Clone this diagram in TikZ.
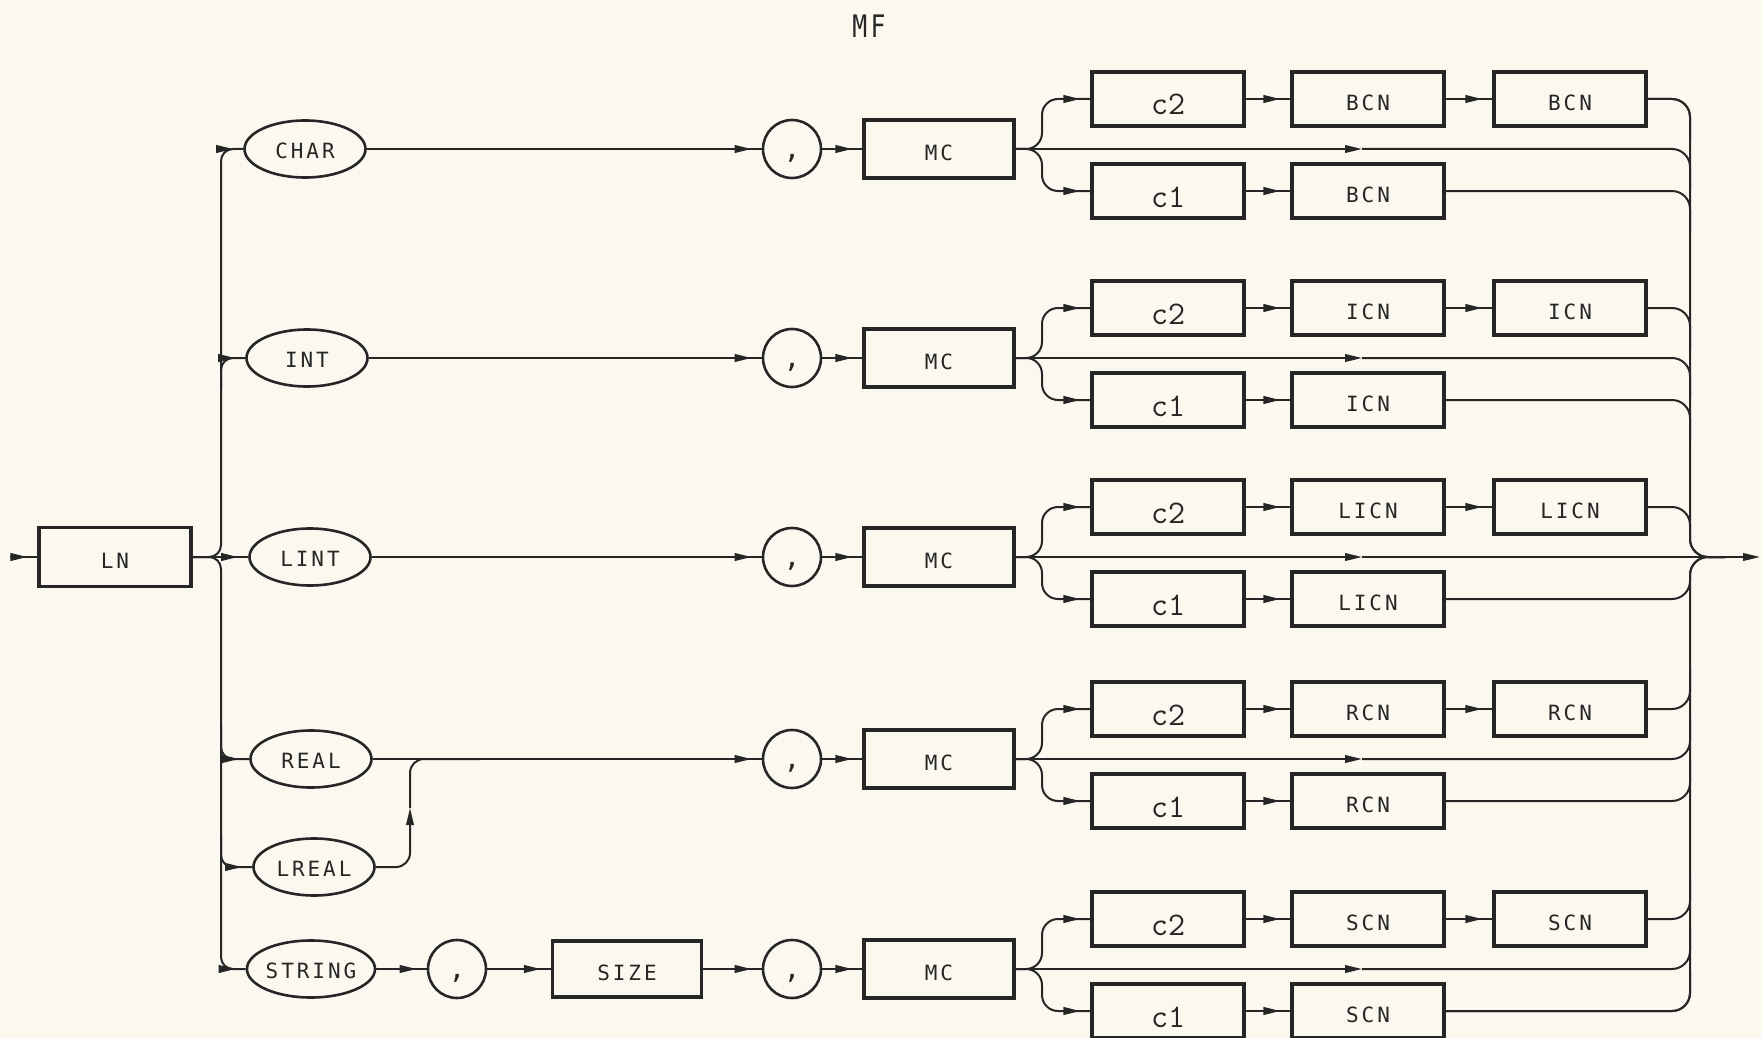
\documentclass[tikz,border=0pt]{standalone}
\usepackage{fontspec}
\usetikzlibrary{arrows.meta,decorations.markings,shapes.geometric}
\newfontfamily\plotfont[LetterSpace=14]{DejaVu Sans Mono}
\definecolor{ink}{HTML}{262626}
\definecolor{paper}{HTML}{FBF9EF}
\tikzset{
  conn/.style={draw,color=ink,line width=1pt},
  arr/.style={postaction={decorate},decoration={markings,mark=at position -5pt with {\arrow{Triangle[length=8.5pt,width=3.8pt]}}}},
  endarr/.style={-{Triangle[length=8.5pt,width=3.8pt]}},
  box/.style={draw=ink,line width=1.6pt,rectangle,minimum width=76pt,minimum height=27pt,inner sep=0pt,
    font=\plotfont\fontsize{10.5}{12}\selectfont,text=ink,text height=11.5pt,text depth=0pt},
  cbox/.style={box,font=\ttfamily\fontsize{16.5}{18}\selectfont,text height=16pt},
  oval/.style={ellipse,draw=ink,line width=1.3pt,minimum width=60.5pt,minimum height=28.5pt,inner sep=0pt,
    font=\plotfont\fontsize{10.5}{12}\selectfont,text=ink,text height=9.5pt,text depth=0pt},
  comma/.style={circle,draw=ink,line width=1.3pt,minimum size=29pt,inner sep=0pt,text=ink,
    font=\plotfont\fontsize{14}{14}\selectfont},
}
\newcommand{\cm}{\smash{\raisebox{-4.5pt}{,}}}
\begin{document}
\begin{tikzpicture}[x=0.5pt,y=-0.5pt]
\fill[paper] (0,0) rectangle (1762,1038);
\useasboundingbox (0,0) rectangle (1762,1038);

% title
\node[font=\plotfont\fontsize{15.5}{15.5}\selectfont,text=ink] (mf) at (869,26) {\scalebox{0.8}[1]{MF}};

% left part
\node[box,minimum height=29.5pt] (ln) at (115,557) {LN};
\coordinate (entry) at (10,557);
\draw[conn,arr] (entry) -- (ln.west);

\node[oval] (char) at (305,149) {CHAR};
\node[oval] (int) at (307,358) {INT};
\node[oval] (lint) at (310,557) {LINT};
\node[oval] (real) at (311,759) {REAL};
\node[oval] (lreal) at (314,867) {LREAL};
\node[oval] (string) at (311,969) {STRING};

\coordinate (fork) at (221,557);
\draw[conn,rounded corners=6pt,arr] (ln.east) -- (fork) |- (char.west);
\draw[conn,rounded corners=6pt,arr] (ln.east) -- (fork) |- (string.west);
\draw[conn,arr] (ln.east) -- (lint.west);
\coordinate (vint) at (221,390);
\draw[conn,rounded corners=6pt,arr] (vint) |- (int.west);
\coordinate (vreal) at (221,725);
\draw[conn,rounded corners=6pt,arr] (vreal) |- (real.west);
\coordinate (vlreal) at (221,835);
\draw[conn,rounded corners=6pt,arr] (vlreal) |- (lreal.west);

% row 5 prefix
\node[comma] (k5a) at (457,969) {\cm};
\node[box,minimum width=74.5pt,minimum height=28pt] (size) at (627,969) {SIZE};
\draw[conn,arr] (string.east) -- (k5a.west);
\draw[conn,arr] (k5a.east) -- (size.west);

% rows
\foreach \i/\y/\lab in {1/149/BCN,2/358/ICN,3/557/LICN,4/759/RCN,5/969/SCN}{
  \node[comma] (k\i) at (792,\y) {\cm};
  \node[box,minimum width=75pt,minimum height=29pt] (mc\i) at (939,\y) {MC};
  \node[cbox] (a\i) at (1168,{\y-50}) {c2};
  \node[cbox] (b\i) at (1168,{\y+42}) {c1};
  \node[box] (p\i) at (1368,{\y-50}) {\lab};
  \node[box] (q\i) at (1570,{\y-50}) {\lab};
  \node[box] (r\i) at (1368,{\y+42}) {\lab};
  \coordinate (s\i) at (1042,\y);
  \coordinate (m\i) at (1362,\y);
  \draw[conn,arr] (k\i.east) -- (mc\i.west);
  \draw[conn,rounded corners=8pt,arr] (mc\i.east) -- (s\i) |- (a\i.west);
  \draw[conn,rounded corners=8pt,arr] (mc\i.east) -- (s\i) |- (b\i.west);
  \draw[conn,endarr] (mc\i.east) -- (m\i);
  \draw[conn,arr] (a\i.east) -- (p\i.west);
  \draw[conn,arr] (p\i.east) -- (q\i.west);
  \draw[conn,arr] (b\i.east) -- (r\i.west);
}
\draw[conn,arr] (char.east) -- (k1.west);
\draw[conn,arr] (int.east) -- (k2.west);
\draw[conn,arr] (lint.east) -- (k3.west);
\draw[conn,arr] (real.east) -- (k4.west);
\draw[conn,arr] (size.east) -- (k5.west);

% LREAL joins REAL line
\coordinate (lj) at (410,867);
\coordinate (lt) at (410,808);
\coordinate (lk) at (410,759);
\coordinate (lr) at (480,759);
\draw[conn,rounded corners=7pt,endarr] (lreal.east) -- (lj) -- (lt);
\draw[conn,rounded corners=7pt] (lt) -- (lk) -- (lr);

% right merge
\coordinate (join) at (1690,557);
\coordinate (jr) at (1725,557);
\coordinate (out) at (1760,557);
\draw[conn,endarr] (join) -- (out);
\draw[conn,rounded corners=9pt] (q1.east) -| (join) -- (jr);
\draw[conn,rounded corners=9pt] (r5.east) -| (join) -- (jr);
\draw[conn,rounded corners=9pt] (q3.east) -| (join) -- (jr);
\draw[conn,rounded corners=9pt] (r3.east) -| (join) -- (jr);
\draw[conn] (m3) -- (jr);
\foreach \i/\y/\dd in {1/149/1,2/358/1,4/759/-1,5/969/-1}{
  \coordinate (ua\i) at (1690,{\y-50+\dd*40});
  \coordinate (um\i) at (1690,{\y+\dd*40});
  \coordinate (ub\i) at (1690,{\y+42+\dd*40});
  \draw[conn,rounded corners=9pt] (q\i.east) -| (ua\i);
  \draw[conn,rounded corners=9pt] (m\i) -| (um\i);
  \draw[conn,rounded corners=9pt] (r\i.east) -| (ub\i);
}
\end{tikzpicture}
\end{document}
